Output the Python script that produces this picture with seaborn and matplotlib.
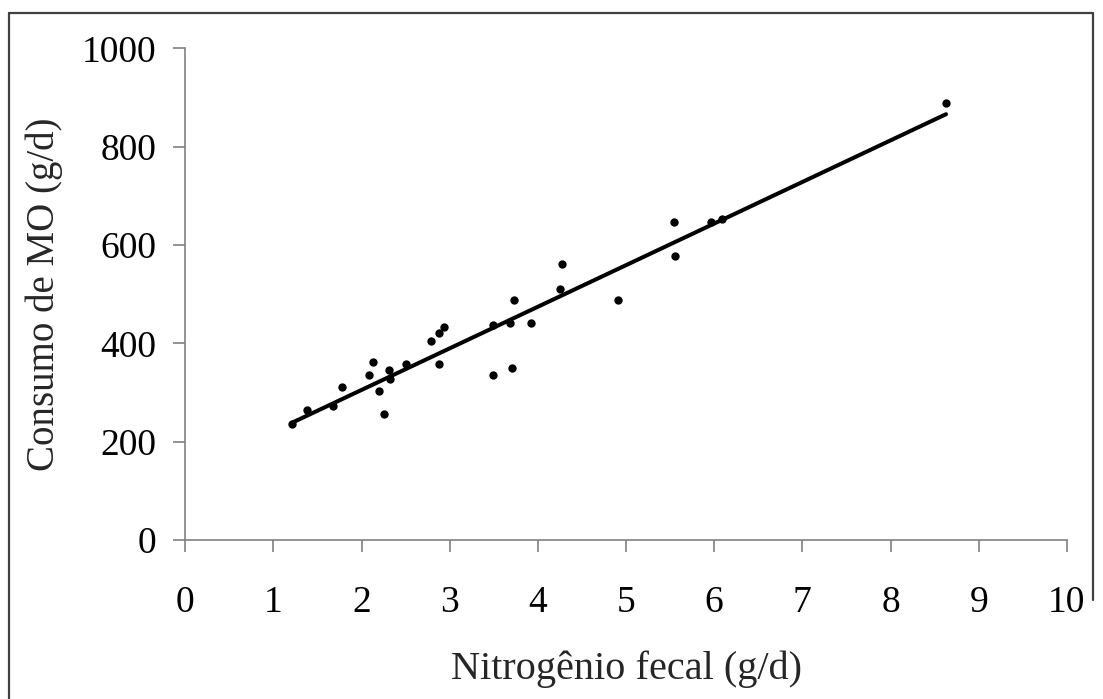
import matplotlib
matplotlib.use("Agg")
import matplotlib.pyplot as plt
import seaborn as sns
import pandas as pd
from matplotlib.lines import Line2D

# Nitrogênio fecal (g/d) x Consumo de MO (g/d)
nitrogenio = [1.21, 1.38, 1.68, 1.78, 2.08, 2.13, 2.20, 2.25, 2.31, 2.32,
              2.50, 2.79, 2.88, 2.93, 2.88, 3.49, 3.68, 3.73, 3.92, 3.49,
              3.71, 4.25, 4.27, 4.91, 5.54, 5.56, 5.96, 6.09, 8.63]
consumo = [235, 264, 272, 311, 336, 362, 302, 256, 345, 327,
           358, 404, 420, 433, 358, 437, 442, 488, 442, 336,
           350, 510, 561, 488, 647, 578, 647, 652, 889]

x_ticks = list(range(0, 11))
y_ticks = [0, 200, 400, 600, 800, 1000]

df = pd.DataFrame({"x": nitrogenio, "y": consumo})

sns.set_style("white")
plt.rcParams["font.family"] = ["Liberation Serif", "DejaVu Serif"]

fig = plt.figure(figsize=(11.03, 6.99), dpi=100)
ax = fig.add_axes([0.168, 0.2275, 0.7992, 0.7034])

sns.regplot(data=df, x="x", y="y", ax=ax, ci=None,
            scatter_kws={"s": 36, "color": "black", "linewidths": 0, "alpha": 1},
            line_kws={"color": "black", "linewidth": 2.9})

ax.set_xlim(0, 10)
ax.set_ylim(0, 1000)
ax.set_xticks(x_ticks)
ax.set_yticks(y_ticks)
ax.tick_params(axis="both", bottom=True, left=True, labelsize=27,
               colors="#808080", labelcolor="black",
               length=8.6, width=1.2, direction="out")
ax.tick_params(axis="x", pad=24)
ax.tick_params(axis="y", pad=12)
for side in ("top", "right"):
    ax.spines[side].set_visible(False)
for side in ("left", "bottom"):
    ax.spines[side].set_color("#808080")
    ax.spines[side].set_linewidth(1.2)

ax.set_xlabel("Nitrogênio fecal (g/d)", fontsize=29, labelpad=22)
ax.set_ylabel("Consumo de MO (g/d)", fontsize=28, labelpad=14)

# outer frame of the chart area
W, H = 1103, 699
fx = lambda px: px / W
fy = lambda py: 1 - py / H
frame = dict(color="#404040", linewidth=1.6, transform=fig.transFigure)
fig.add_artist(Line2D([fx(9), fx(9)], [fy(13), fy(699)], **frame))
fig.add_artist(Line2D([fx(9), fx(1093)], [fy(13), fy(13)], **frame))
fig.add_artist(Line2D([fx(1093), fx(1093)], [fy(13), fy(600)], **frame))

fig.savefig("out.png", dpi=100)
